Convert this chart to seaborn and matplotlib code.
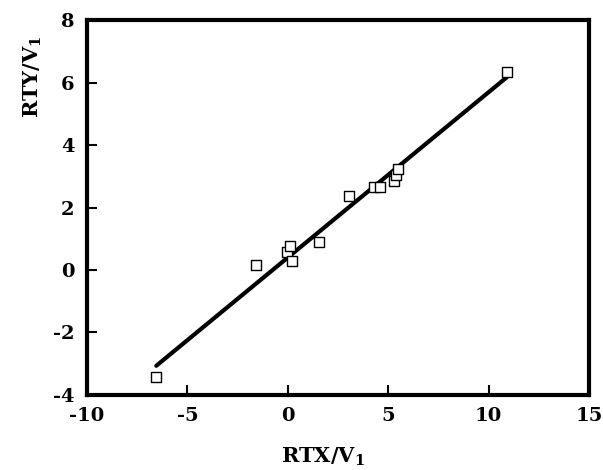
import numpy as np
import pandas as pd
import seaborn as sns
import matplotlib
matplotlib.use("Agg")
import matplotlib.pyplot as plt

# data
rtx = [-6.55, -1.6, -0.05, 0.1, 0.2, 1.55, 3.05, 4.3, 4.6, 5.3, 5.4, 5.5, 10.9]
rty = [-3.42, 0.16, 0.58, 0.77, 0.3, 0.9, 2.37, 2.66, 2.66, 2.85, 3.04, 3.23, 6.34]

# fitted line (slope / intercept)
fit_slope = 0.529
fit_intercept = 0.40

x_ticks = [-10, -5, 0, 5, 10, 15]
y_ticks = [-4, -2, 0, 2, 4, 6, 8]

sns.set_style("ticks")
plt.rcParams['font.family'] = ['DejaVu Serif']
plt.rcParams['font.weight'] = 'bold'
plt.rcParams['mathtext.fontset'] = 'dejavuserif'
plt.rcParams['axes.unicode_minus'] = False
plt.rcParams['text.color'] = 'black'
plt.rcParams['axes.labelcolor'] = 'black'
plt.rcParams['xtick.color'] = 'black'
plt.rcParams['ytick.color'] = 'black'

points = pd.DataFrame({'x': rtx, 'y': rty})
line_x = np.array([min(rtx), max(rtx)])
line = pd.DataFrame({'x': line_x, 'y': fit_slope * line_x + fit_intercept})

fig = plt.figure(figsize=(6.03, 4.70), dpi=100)
ax = fig.add_axes([0.1443, 0.1596, 0.8325, 0.7978])

sns.lineplot(data=line, x='x', y='y', color='black', linewidth=3, ax=ax)
sns.scatterplot(data=points, x='x', y='y', marker='s', s=45,
                facecolor='white', edgecolor='black', linewidth=1, zorder=3, ax=ax)

ax.set_xlim(-10, 15)
ax.set_ylim(-4, 8)
ax.set_xticks(x_ticks)
ax.set_yticks(y_ticks)
ax.tick_params(direction='in', length=7.5, width=1.5, labelsize=14,
               top=False, right=False, pad=9)
for lab in ax.get_xticklabels() + ax.get_yticklabels():
    lab.set_fontweight('bold')

for side in ['left', 'right', 'top', 'bottom']:
    ax.spines[side].set_visible(True)
    ax.spines[side].set_linewidth(3)
    ax.spines[side].set_color('black')

ax.set_xlabel(r'RTX/V$_{\mathbf{1}}$', fontsize=15, fontweight='bold')
ax.set_ylabel(r'RTY/V$_{\mathbf{1}}$', fontsize=15, fontweight='bold')
ax.xaxis.set_label_coords(0.47, -0.135)
ax.yaxis.set_label_coords(-0.085, 0.848)

fig.savefig('out.png', dpi=100)
